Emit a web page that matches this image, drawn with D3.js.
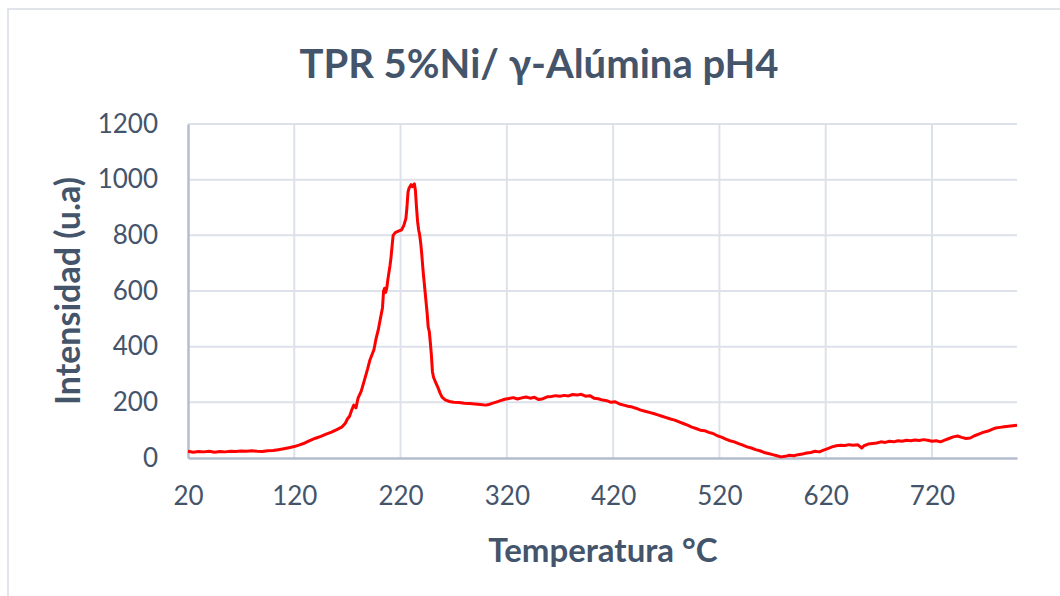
<!DOCTYPE html>
<html>
<head>
<meta charset="utf-8">
<script src="https://cdn.jsdelivr.net/npm/d3@7"></script>
<style>
  body { margin: 0; background: #ffffff; }
  #chart { width: 1060px; height: 596px; }
</style>
</head>
<body>
<div id="chart"></div>
<script>
// TPR curve
const temperature = [
  20, 25, 30, 35, 40, 45, 50, 55, 60, 65, 70, 75, 80, 85, 90, 95, 100, 105, 110, 115,
  120, 125, 130, 135, 140, 145, 150, 155, 160, 165, 168, 170, 172, 174, 176, 178, 180, 183, 186, 189,
  191, 193, 195, 197, 199, 201, 203, 204, 205, 206, 207, 208, 210, 211, 212, 213, 215, 218, 221, 223,
  225, 226, 227, 228, 230, 231, 233, 234, 235, 236, 237, 238, 239, 240, 241, 242, 243, 244, 245, 246,
  247, 248, 249, 250, 251, 253, 255, 257, 259, 262, 266, 270, 275, 280, 285, 290, 295, 300, 303, 306,
  310, 314, 318, 322, 326, 330, 334, 338, 342, 346, 350, 354, 358, 362, 366, 370, 374, 378, 382, 386,
  390, 394, 398, 402, 406, 410, 414, 418, 422, 426, 430, 434, 438, 442, 446, 450, 454, 458, 462, 466,
  470, 474, 478, 482, 486, 490, 494, 498, 502, 506, 510, 514, 518, 522, 526, 530, 534, 538, 542, 546,
  550, 554, 558, 562, 566, 570, 574, 578, 582, 586, 590, 594, 598, 602, 606, 610, 614, 618, 622, 626,
  630, 634, 638, 642, 646, 650, 654, 656, 660, 664, 668, 672, 676, 680, 684, 688, 692, 696, 700, 704,
  708, 712, 716, 720, 724, 728, 732, 736, 740, 744, 748, 752, 756, 760, 764, 768, 772, 776, 780, 784,
  788, 792, 796, 800
];
const intensity = [
  24, 21, 23, 22, 24, 21, 23, 22, 24, 23, 25, 24, 26, 24, 23, 26, 27, 30, 33, 37,
  41, 47, 54, 63, 71, 78, 86, 93, 102, 112, 125, 140, 150, 172, 190, 180, 215, 240, 280, 320,
  350, 370, 390, 430, 460, 500, 540, 600, 610, 595, 610, 640, 690, 720, 760, 800, 810, 815, 820, 835,
  860, 900, 955, 970, 982, 975, 985, 960, 900, 850, 820, 800, 770, 730, 680, 640, 600, 560, 520, 470,
  455, 415, 370, 310, 290, 272, 255, 235, 219, 209, 203, 200, 199, 197, 196, 194, 192, 190, 192, 196,
  201, 206, 211, 214, 217, 212, 216, 219, 215, 218, 210, 213, 220, 221, 224, 222, 225, 223, 228, 226,
  229, 222, 224, 215, 213, 208, 206, 200, 202, 194, 190, 186, 183, 178, 172, 168, 164, 160, 155, 150,
  145, 140, 136, 130, 124, 118, 111, 106, 100, 98, 92, 88, 80, 75, 68, 62, 58, 52, 46, 40,
  36, 30, 26, 20, 16, 12, 8, 4, 6, 10, 8, 12, 14, 18, 20, 24, 22, 28, 34, 40,
  44, 46, 45, 48, 46, 48, 36, 44, 50, 52, 54, 58, 56, 60, 58, 62, 60, 64, 62, 65,
  63, 66, 64, 60, 62, 58, 64, 70, 76, 79, 74, 70, 72, 80, 86, 92, 96, 102, 108, 110,
  112, 114, 116, 118
];
const xTicks = [20, 120, 220, 320, 420, 520, 620, 720];
const yTicks = [0, 200, 400, 600, 800, 1000, 1200];

const textColor = '#44546A';
const gridColor = '#DDE2EA';
const axisColor = '#B4BDCE';
const font = 'Lato, "Open Sans", sans-serif';

const width = 1060;
const height = 596;
const plot = { left: 188, right: 1017, top: 124, bottom: 458 };

const svg = d3.select('#chart')
  .append('svg')
  .attr('width', width)
  .attr('height', height);

// chart frame
svg.append('rect')
  .attr('x', 8)
  .attr('y', 9)
  .attr('width', 1100)
  .attr('height', 700)
  .attr('fill', 'none')
  .attr('stroke', '#E1E4EA')
  .attr('stroke-width', 2);

const x = d3.scaleLinear().domain([20, 800]).range([plot.left, plot.right]);
const y = d3.scaleLinear().domain([0, 1200]).range([plot.bottom, plot.top]);

// gridlines
svg.append('g')
  .selectAll('line.hgrid')
  .data(yTicks.filter(d => d > 0))
  .enter()
  .append('line')
  .attr('x1', plot.left)
  .attr('x2', plot.right)
  .attr('y1', d => y(d))
  .attr('y2', d => y(d))
  .attr('stroke', gridColor)
  .attr('stroke-width', 2);

svg.append('g')
  .selectAll('line.vgrid')
  .data(xTicks.filter(d => d > 20))
  .enter()
  .append('line')
  .attr('x1', d => x(d))
  .attr('x2', d => x(d))
  .attr('y1', plot.top)
  .attr('y2', plot.bottom)
  .attr('stroke', gridColor)
  .attr('stroke-width', 2);

// axes
const xAxis = svg.append('g')
  .attr('transform', `translate(0,${plot.bottom})`)
  .call(d3.axisBottom(x).tickValues(xTicks).tickFormat(d3.format('d')).tickSize(0).tickPadding(29));
xAxis.select('.domain').attr('stroke', axisColor).attr('stroke-width', 2.5);
xAxis.selectAll('text')
  .attr('fill', textColor)
  .style('font-family', font)
  .style('font-size', '26px');

const yAxis = svg.append('g')
  .attr('transform', `translate(${plot.left},0)`)
  .call(d3.axisLeft(y).tickValues(yTicks).tickFormat(d3.format('d')).tickSize(0).tickPadding(30));
yAxis.select('.domain').attr('stroke', axisColor).attr('stroke-width', 2.5);
yAxis.selectAll('text')
  .attr('fill', textColor)
  .style('font-family', font)
  .style('font-size', '26px');

// data line
const line = d3.line()
  .x((d, i) => x(temperature[i]))
  .y(d => y(d));

svg.append('path')
  .datum(intensity)
  .attr('d', line)
  .attr('fill', 'none')
  .attr('stroke', '#FF0000')
  .attr('stroke-width', 3)
  .attr('stroke-linejoin', 'round');

// titles
svg.append('text')
  .attr('x', 539)
  .attr('y', 78)
  .attr('text-anchor', 'middle')
  .attr('fill', textColor)
  .style('font-family', font)
  .style('font-weight', 'bold')
  .style('font-size', '40px')
  .text('TPR 5%Ni/ γ-Alúmina pH4');

svg.append('text')
  .attr('x', 603)
  .attr('y', 562)
  .attr('text-anchor', 'middle')
  .attr('fill', textColor)
  .style('font-family', font)
  .style('font-weight', 'bold')
  .style('font-size', '33px')
  .text('Temperatura °C');

svg.append('text')
  .attr('transform', 'translate(80,291) rotate(-90)')
  .attr('text-anchor', 'middle')
  .attr('fill', textColor)
  .style('font-family', font)
  .style('font-weight', 'bold')
  .style('font-size', '34px')
  .text('Intensidad (u.a)');
</script>
</body>
</html>
